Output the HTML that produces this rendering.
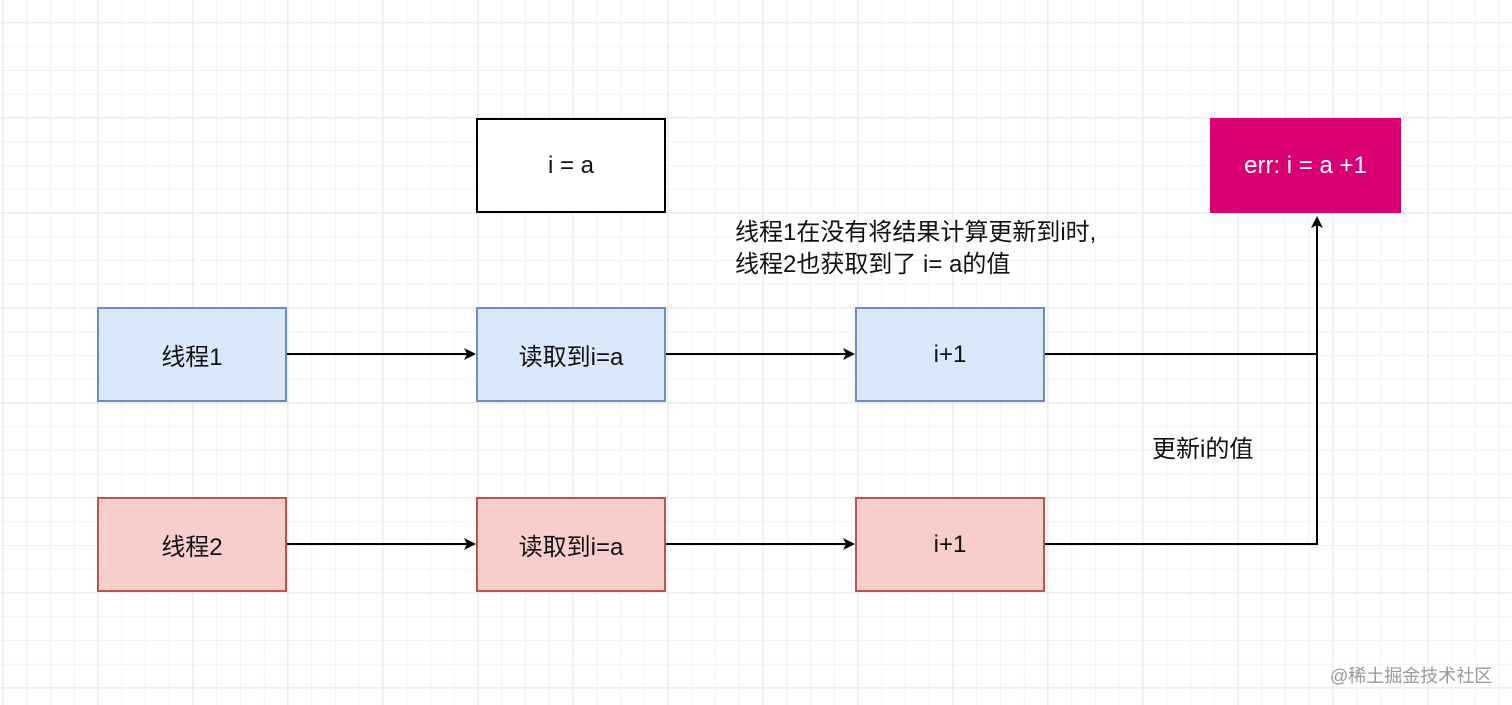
<!DOCTYPE html>
<html><head><meta charset="utf-8"><style>
body{margin:0;width:1512px;height:705px;overflow:hidden;background:#fff;font-family:"Liberation Sans","Noto Sans CJK SC",sans-serif;}
svg{position:absolute;left:0;top:0}
.b{position:absolute;box-sizing:border-box;display:flex;align-items:center;justify-content:center;font-size:24px;color:#111}
.t{position:absolute;font-size:24px;color:#111;white-space:nowrap;line-height:32px}
</style></head><body>
<svg width="1512" height="705">
<defs>
<pattern id="m" width="23.75" height="23.75" patternUnits="userSpaceOnUse" x="2.5" y="22.5"><path d="M0 0H23.75M0 0V23.75" stroke="#efefef" stroke-width="1.5" fill="none"/></pattern>
<pattern id="M" width="95" height="95" patternUnits="userSpaceOnUse" x="2.5" y="22.5"><path d="M0 0H95M0 0V95" stroke="#dedede" stroke-width="1.5" fill="none"/></pattern>
<marker id="a" markerWidth="12" markerHeight="12" refX="10" refY="6" orient="auto" markerUnits="userSpaceOnUse"><path d="M0 0L12 6L0 12L3 6Z" fill="#000"/></marker>
</defs>
<rect width="1512" height="705" fill="url(#m)"/>
<rect width="1512" height="705" fill="url(#M)"/>
<g stroke="#000" stroke-width="2" fill="none">
<path d="M287 354H474" marker-end="url(#a)"/>
<path d="M666 354H853" marker-end="url(#a)"/>
<path d="M287 544H474" marker-end="url(#a)"/>
<path d="M666 544H853" marker-end="url(#a)"/>
<path d="M1045 354H1317"/>
<path d="M1045 544H1317V218" marker-end="url(#a)"/>
</g>
</svg>
<div class="b" style="left:476px;top:118px;width:190px;height:95px;border:2px solid #000;background:#fff">i = a</div>
<div class="b" style="left:1210px;top:118px;width:191px;height:95px;background:#d80073;color:#fff">err: i = a +1</div>
<div class="b" style="left:97px;top:307px;width:190px;height:95px;border:2px solid #6c8ebf;background:#dae8fc">线程1</div>
<div class="b" style="left:476px;top:307px;width:190px;height:95px;border:2px solid #6c8ebf;background:#dae8fc">读取到i=a</div>
<div class="b" style="left:855px;top:307px;width:190px;height:95px;border:2px solid #6c8ebf;background:#dae8fc">i+1</div>
<div class="b" style="left:97px;top:497px;width:190px;height:95px;border:2px solid #b85450;background:#f8cecc">线程2</div>
<div class="b" style="left:476px;top:497px;width:190px;height:95px;border:2px solid #b85450;background:#f8cecc">读取到i=a</div>
<div class="b" style="left:855px;top:497px;width:190px;height:95px;border:2px solid #b85450;background:#f8cecc">i+1</div>
<div class="t" style="left:735px;top:217px">线程1在没有将结果计算更新到i时,<br>线程2也获取到了 i= a的值</div>
<div class="t" style="left:1152px;top:434px">更新i的值</div>
<div class="t" style="left:1330px;top:660px;font-size:18px;color:#999">@稀土掘金技术社区</div>
</body></html>
